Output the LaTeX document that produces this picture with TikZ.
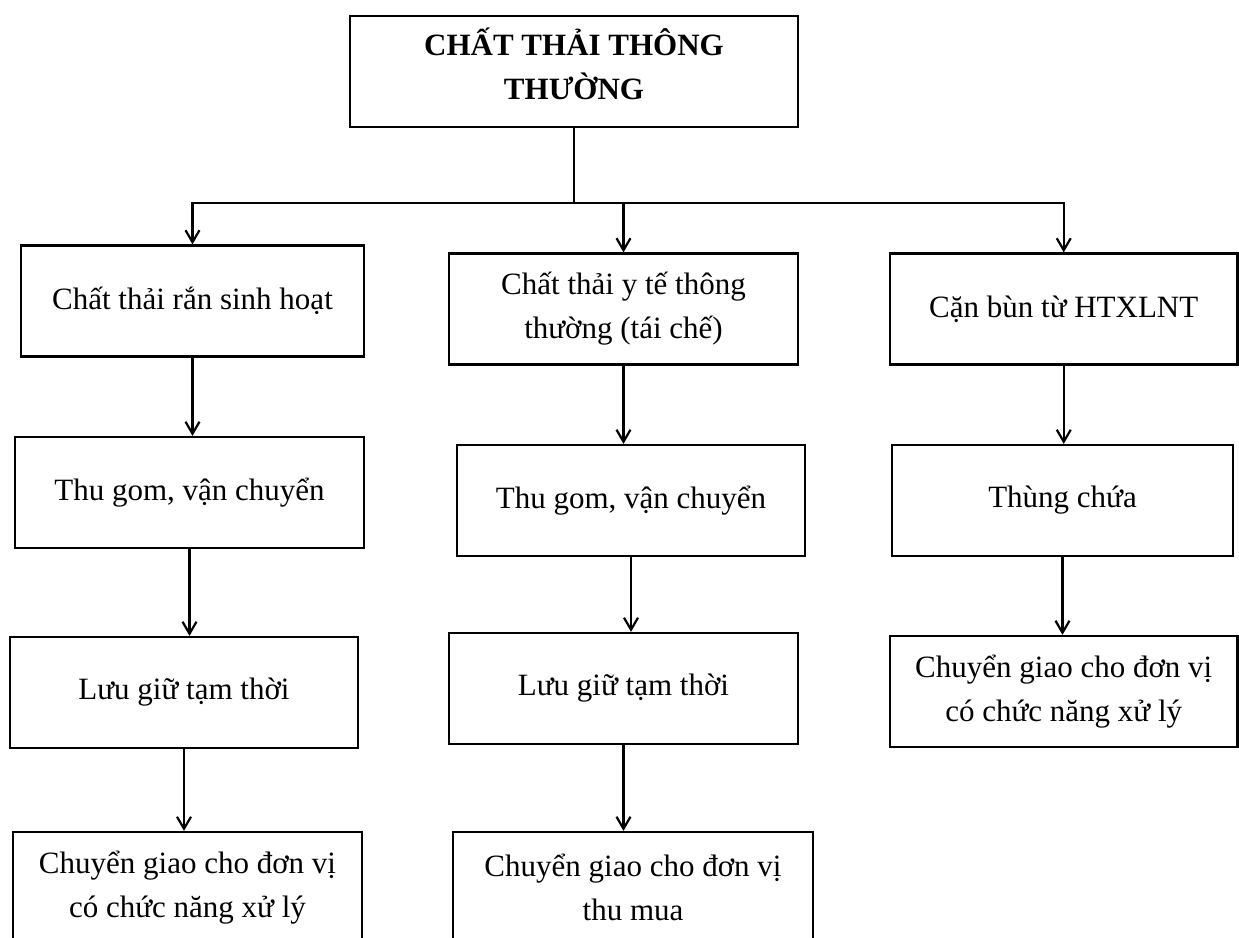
\documentclass[tikz,border=0pt]{standalone}
\usepackage{fontspec}
\setmainfont{Liberation Serif}
\usetikzlibrary{arrows.meta}

\begin{document}
\begin{tikzpicture}[->,>={Straight Barb[length=6pt,width=7pt]},x=0.5pt,y=-0.5pt,
			line width=1.1pt,main box/.style={draw,rectangle,inner sep=0pt,align=center,
			minimum height=55.5pt,font=\fontsize{15.5}{22}\selectfont}]
			\clip (0,0) rectangle (1239,938);
			\node[main box, minimum width=224pt, text depth=8pt, font=\fontsize{15.5}{22}\selectfont\bfseries] (top) at (574,71.5) {CHẤT THẢI THÔNG\\THƯỜNG};
			\coordinate (split) at (574,203);
			
			\node[main box, minimum width=171.5pt] (l1) at (192.5,301) {Chất thải rắn sinh hoạt};
			\node[main box, minimum width=174.5pt] (l2) at (189.5,492.5) {Thu gom, vận chuyển};
			\node[main box, minimum width=174.25pt] (l3) at (184,692.5) {Lưu giữ tạm thời};
			\node[main box, minimum width=174.5pt] (l4) at (187.5,887.5) {Chuyển giao cho đơn vị\\có chức năng xử lý};
			
			\node[main box, minimum width=174.5pt] (m1) at (623.5,309) {Chất thải y tế thông\\thường (tái chế)};
			\node[main box, minimum width=174pt] (m2) at (631,500.5) {Thu gom, vận chuyển};
			\node[main box, minimum width=174.5pt] (m3) at (623.5,688.5) {Lưu giữ tạm thời};
			\node[main box, minimum width=180pt] (m4) at (633,887.5) {Chuyển giao cho đơn vị\\thu mua};
			
			\node[main box, minimum width=173.75pt] (r1) at (1063.75,309) {Cặn bùn từ HTXLNT};
			\node[main box, minimum width=170.5pt] (r2) at (1062.5,500.5) {Thùng chứa};
			\node[main box, minimum width=173.75pt] (r3) at (1063.75,691.5) {Chuyển giao cho đơn vị\\có chức năng xử lý};
			
			\draw[-] (top) -- (split);
			\draw (split) -| (l1);
			\draw (split) -| (m1);
			\draw (split) -| (r1);
			\path (l1) edge (l1 |- l2.north)
			(l2) edge (l2 |- l3.north)
			(l3) edge (l3 |- l4.north)
			(m1) edge (m1 |- m2.north)
			(m2) edge (m2 |- m3.north)
			(m3) edge (m3 |- m4.north)
			(r1) edge (r1 |- r2.north)
			(r2) edge (r2 |- r3.north);
		\end{tikzpicture}
\end{document}
